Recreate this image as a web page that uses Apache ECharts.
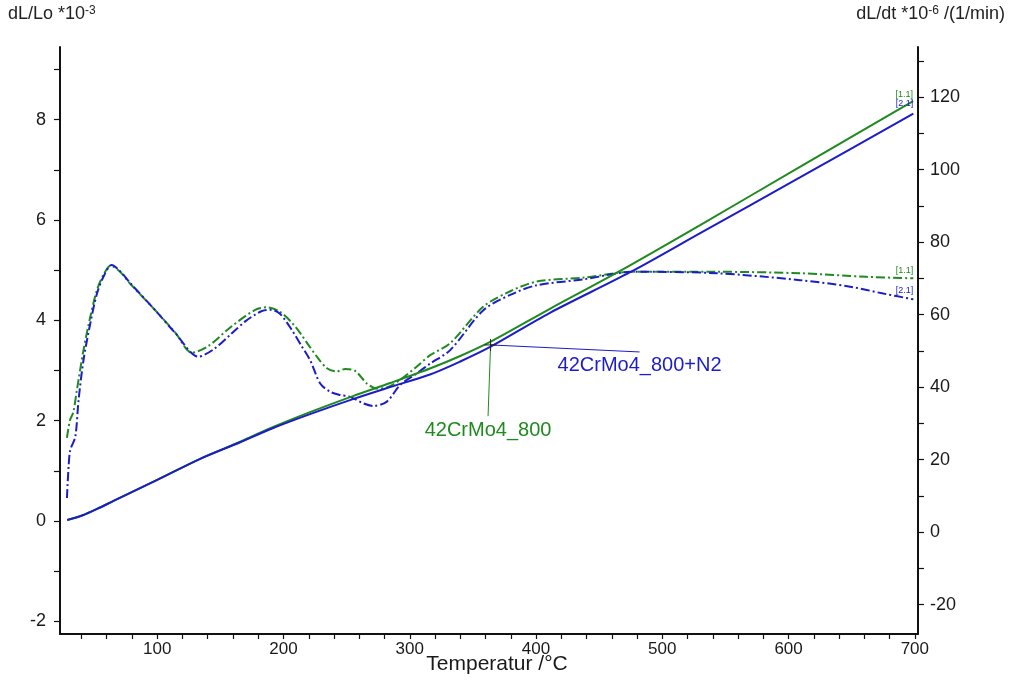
<!DOCTYPE html>
<html><head><meta charset="utf-8">
<script src="https://cdn.jsdelivr.net/npm/echarts@6/dist/echarts.min.js"></script>
<style>html,body{margin:0;padding:0;background:#fff}#c{width:1010px;height:680px}</style>
</head><body><div id="c"></div>
<script>
// ---- tick values ----
const xTickValues = [40,60,80,100,120,140,160,180,200,220,240,260,280,300,320,340,360,380,400,420,440,460,480,500,520,540,560,580,600,620,640,660,680,700];
const xLabelValues = [100,200,300,400,500,600,700];
const leftTickValues = [-2,-1,0,1,2,3,4,5,6,7,8,9];
const leftLabelValues = [-2,0,2,4,6,8];
const rightTickValues = [-20,-10,0,10,20,30,40,50,60,70,80,90,100,110,120,130];
const rightLabelValues = [-20,0,20,40,60,80,100,120];

// ---- dL/Lo (left axis) ----
const greenSolidT = [28.7,41.6,52.3,65.4,78.6,100,134,165.7,189.5,221,255,284.5,316,340,363.7,411,464,530,609,698.6];
const greenSolidV = [0.02,0.12,0.24,0.40,0.56,0.82,1.24,1.58,1.85,2.17,2.49,2.75,3.04,3.29,3.57,4.23,4.95,5.90,7.06,8.37];
const blueSolidT = [28.7,41.6,52.3,65.4,78.6,100,134,165.7,189.5,221,255,284.5,316,340,363.7,411,474.5,530,609,698.8];
const blueSolidV = [0.02,0.12,0.24,0.40,0.56,0.82,1.24,1.57,1.83,2.13,2.43,2.67,2.92,3.18,3.47,4.15,4.96,5.74,6.85,8.12];

// ---- dL/dt (right axis) ----
const greenDashT = [28.5,31,33.5,36.4,41.6,47.0,52.3,57.5,63.0,70,78.6,98.4,114.3,127.5,140,158,177.6,187,197,206,213,220,226.4,234.4,242,249,257,266,274,282,292.4,305,316.2,332,358.3,380,400.6,437.5,477.1,543.1,609.1,661.9,698.8];
const greenDashR = [26,31,33,39.2,50.2,59.4,66.8,71.0,73.5,72.0,68.5,61.2,55.0,49.5,51.2,56.5,61.3,62.0,60.8,58.0,55.0,51.5,48.4,45.2,44.3,45.0,44.4,41.0,39.6,39.9,42.0,45.5,48.8,52.1,62.2,66.5,69.1,70.2,71.8,71.8,71.4,70.4,70.0];
const blueDashT = [28.5,29.8,31.1,35.1,37.7,41.6,47.0,52.3,57.5,64,70,78.6,98.4,114.3,132.7,145,158,170,177.6,183,190,197,206.7,214,221.1,229.1,237,245,252.8,263.3,271.3,281.9,292.4,305.6,316.2,332,358.3,380,400.6,437.5,477.1,543.1,609.1,648.7,675,698.8];
const blueDashR = [9.4,18,22.6,26.3,36.4,47.4,57.6,65.8,70.5,73.7,72.2,68.7,61.2,54.9,48.4,50.5,54.5,58.2,60.0,61.0,61.3,60.3,55.7,51.5,47.4,41.0,38.7,37.8,37.3,35.5,34.8,36.0,40.6,43.8,46.5,50.2,61.2,65.5,68.1,69.7,71.8,71.4,69.5,67.7,65.8,64.2];

// ---- annotations (data coords, left axis) ----
const markerPoint = [364, 3.51];
const blueLeaderEnd = [482, 3.37];
const greenLeaderEnd = [362, 2.09];
const blueName = '42CrMo4_800+N2';
const greenName = '42CrMo4_800';

const GREEN = '#1f8a1f';
const BLUE = '#1c1cc8';
const zip = (a, b) => a.map((t, i) => [t, b[i]]);

const chart = echarts.init(document.getElementById('c'), null, {renderer: 'canvas'});
const axisCommon = {
  type: 'value',
  splitLine: {show: false},
  axisLine: {show: true, onZero: false, lineStyle: {color: '#111', width: 2}},
  axisTick: {show: true, inside: false, length: 6, lineStyle: {color: '#111', width: 1.2}},
  axisLabel: {color: '#1a1a1a', fontSize: 18, fontFamily: 'Liberation Sans, Arial, sans-serif'}
};
const option = {
  animation: false,
  backgroundColor: '#fff',
  grid: {left: 60, right: 92, top: 47, bottom: 46, containLabel: false},
  xAxis: Object.assign({}, axisCommon, {
    min: 23, max: 702.5, position: 'bottom',
    axisTick: Object.assign({}, axisCommon.axisTick, {customValues: xTickValues, length: 5}),
    axisLabel: Object.assign({}, axisCommon.axisLabel, {customValues: xLabelValues, margin: 7, fontSize: 17,
      fontFamily: 'Liberation Sans Narrow, Arial Narrow, Liberation Sans, sans-serif'})
  }),
  yAxis: [
    Object.assign({}, axisCommon, {
      min: -2.253, max: 9.45, position: 'left',
      axisTick: Object.assign({}, axisCommon.axisTick, {customValues: leftTickValues}),
      axisLabel: Object.assign({}, axisCommon.axisLabel, {customValues: leftLabelValues, margin: 14})
    }),
    Object.assign({}, axisCommon, {
      min: -28.1, max: 133.8, position: 'right',
      axisTick: Object.assign({}, axisCommon.axisTick, {customValues: rightTickValues}),
      axisLabel: Object.assign({}, axisCommon.axisLabel, {customValues: rightLabelValues, margin: 12})
    })
  ],
  series: [
    {name: 'g-dLdt', type: 'line', yAxisIndex: 1, data: zip(greenDashT, greenDashR), smooth: 0.3, showSymbol: false,
      lineStyle: {color: GREEN, width: 2, type: [9, 3, 2, 3]}, z: 2},
    {name: 'b-dLdt', type: 'line', yAxisIndex: 1, data: zip(blueDashT, blueDashR), smooth: 0.3, showSymbol: false,
      lineStyle: {color: BLUE, width: 2, type: [9, 3, 2, 3]}, z: 3},
    {name: 'g-dLLo', type: 'line', yAxisIndex: 0, data: zip(greenSolidT, greenSolidV), smooth: 0.3, showSymbol: false,
      lineStyle: {color: GREEN, width: 2}, z: 4},
    {name: 'b-dLLo', type: 'line', yAxisIndex: 0, data: zip(blueSolidT, blueSolidV), smooth: 0.3, showSymbol: false,
      lineStyle: {color: BLUE, width: 2}, z: 5}
  ]
};
chart.setOption(option);

const P = (pt, yi) => chart.convertToPixel({xAxisIndex: 0, yAxisIndex: yi}, pt);
const m = P(markerPoint, 0);
const be = P(blueLeaderEnd, 0);
const ge = P(greenLeaderEnd, 0);
const gsEnd = P([greenSolidT[greenSolidT.length-1], greenSolidV[greenSolidV.length-1]], 0);
const bsEnd = P([blueSolidT[blueSolidT.length-1], blueSolidV[blueSolidV.length-1]], 0);
const gdEnd = P([greenDashT[greenDashT.length-1], greenDashR[greenDashR.length-1]], 1);
const bdEnd = P([blueDashT[blueDashT.length-1], blueDashR[blueDashR.length-1]], 1);
const smallFont = '9px Liberation Sans, Arial, sans-serif';
const narrow = 'Liberation Sans Narrow, Arial Narrow, Liberation Sans, sans-serif';

chart.setOption({
  graphic: [
    {type: 'line', z: 50, shape: {x1: m[0], y1: m[1], x2: be[0], y2: be[1]}, style: {stroke: BLUE, lineWidth: 1}},
    {type: 'line', z: 50, shape: {x1: m[0], y1: m[1], x2: ge[0], y2: ge[1]}, style: {stroke: GREEN, lineWidth: 1}},
    {type: 'line', z: 51, shape: {x1: m[0]-6, y1: m[1], x2: m[0]+6, y2: m[1]}, style: {stroke: '#222', lineWidth: 1}},
    {type: 'line', z: 51, shape: {x1: m[0], y1: m[1]-6, x2: m[0], y2: m[1]+6}, style: {stroke: '#222', lineWidth: 1}},
    {type: 'text', z: 52, x: be[0] - 82, y: be[1] + 4, style: {text: blueName, fill: BLUE, fontSize: 20, fontFamily: narrow, textAlign: 'left', textVerticalAlign: 'top'}},
    {type: 'text', z: 52, x: ge[0], y: ge[1] + 4, style: {text: greenName, fill: GREEN, fontSize: 20, fontFamily: narrow, textAlign: 'center', textVerticalAlign: 'top'}},
    {type: 'text', z: 52, x: gsEnd[0], y: gsEnd[1] - 2, style: {text: '[1.1]', fill: GREEN, font: smallFont, textAlign: 'right', textVerticalAlign: 'bottom'}},
    {type: 'text', z: 52, x: bsEnd[0], y: bsEnd[1] - 6, style: {text: '[2.1]', fill: BLUE, font: smallFont, textAlign: 'right', textVerticalAlign: 'bottom'}},
    {type: 'text', z: 52, x: gdEnd[0], y: gdEnd[1] - 3, style: {text: '[1.1]', fill: GREEN, font: smallFont, textAlign: 'right', textVerticalAlign: 'bottom'}},
    {type: 'text', z: 52, x: bdEnd[0], y: bdEnd[1] - 4, style: {text: '[2.1]', fill: BLUE, font: smallFont, textAlign: 'right', textVerticalAlign: 'bottom'}},
    {type: 'text', z: 52, left: 8, top: 5, style: {text: 'dL/Lo *10{s|-3}', fill: '#222', fontSize: 18, fontFamily: 'Liberation Sans, Arial, sans-serif',
      rich: {s: {fontSize: 12, verticalAlign: 'top', fill: '#222', padding: [0, 0, 7, 0]}}}},
    {type: 'text', z: 52, right: 5, top: 5, style: {text: 'dL/dt *10{s|-6} /(1/min)', fill: '#222', fontSize: 18, fontFamily: 'Liberation Sans, Arial, sans-serif',
      rich: {s: {fontSize: 12, verticalAlign: 'top', fill: '#222', padding: [0, 0, 7, 0]}}}},
    {type: 'text', z: 52, x: 497, y: 664, style: {text: 'Temperatur /°C', fill: '#1a1a1a', fontSize: 21, fontFamily: narrow, textAlign: 'center', textVerticalAlign: 'middle'}}
  ]
});
</script></body></html>
